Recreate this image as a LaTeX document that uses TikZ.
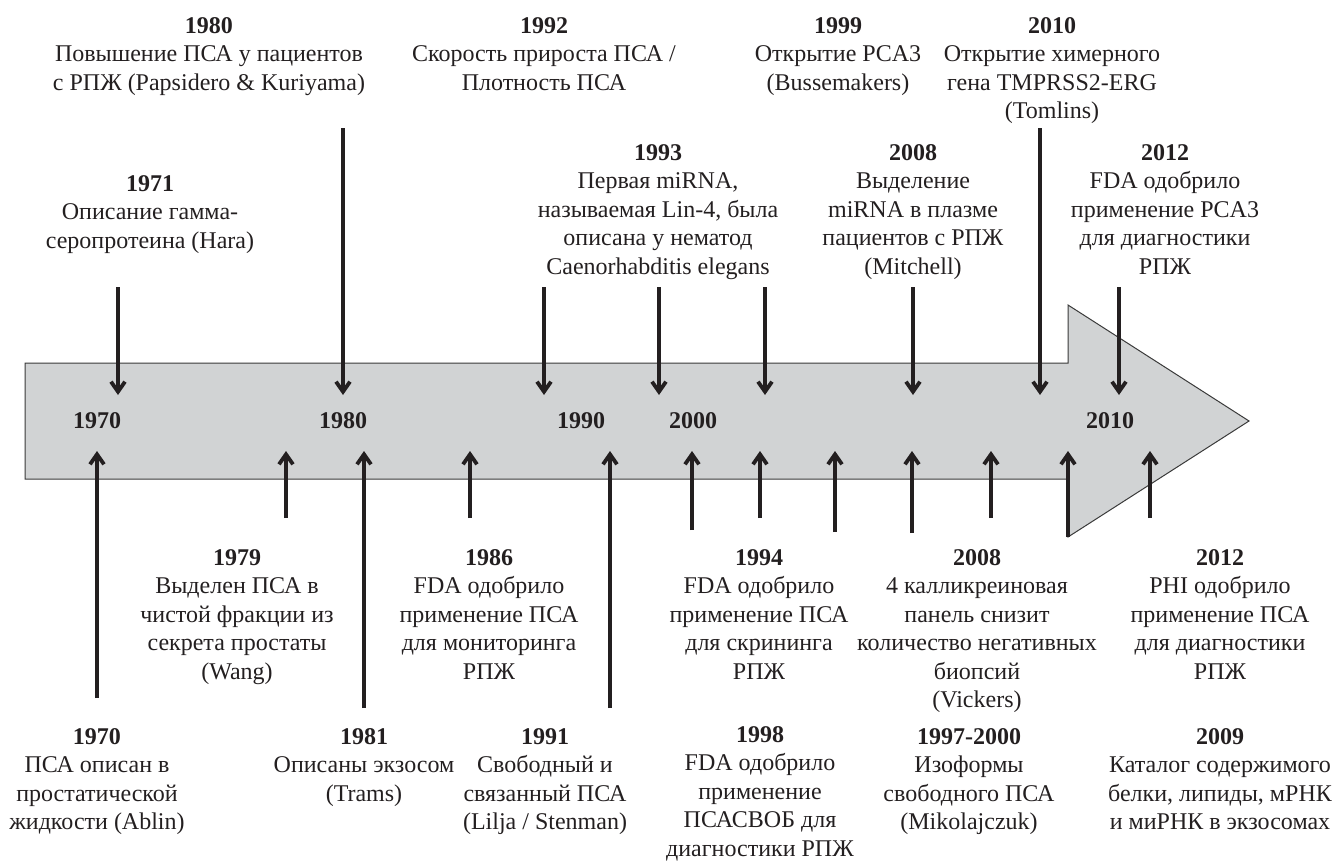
\documentclass[tikz,border=0pt]{standalone}
\usepackage{fontspec}
\setmainfont{Liberation Serif}
\usetikzlibrary{arrows.meta}
\definecolor{ink}{HTML}{231F20}
\definecolor{bandgray}{HTML}{D1D3D4}
\definecolor{bandedge}{HTML}{3A3A3A}
\newcommand\evfont{\fontsize{24}{28.5}\selectfont}
\begin{document}
\begin{tikzpicture}[x=1pt,y=-1pt,
  band/.style={fill=bandgray,draw=bandedge,line width=1pt},
  evt/.style={align=center,inner sep=0pt,anchor=north,font=\evfont,text=ink},
  yr/.style={inner sep=0pt,font=\evfont\bfseries,text=ink},
  arr/.style={draw=ink,line width=3.8pt,-{Straight Barb[length=10pt,width=14pt]}}]
\useasboundingbox (0,0) rectangle (1339,862);
% band arrow
\path[band] (25,363) -- (1068,363) -- (1068,305) -- (1249,421) -- (1068,537) -- (1068,479) -- (25,479) -- cycle;
% decade labels
\node[yr] (d70) at (97,421) {1970};
\node[yr] (d80) at (343,421) {1980};
\node[yr] (d90) at (581,421) {1990};
\node[yr] (d00) at (693,421) {2000};
\node[yr] (d10) at (1110,421) {2010};
% top events
\node[evt] (e1980) at (209,17) {\textbf{1980}\\Повышение ПСА у пациентов\\с РПЖ (Papsidero \& Kuriyama)};
\node[evt] (e1992) at (544,17) {\textbf{1992}\\Скорость прироста ПСА /\\Плотность ПСА};
\node[evt] (e1999) at (838,17) {\textbf{1999}\\Открытие PCA3\\(Bussemakers)};
\node[evt] (e2010) at (1052,17) {\textbf{2010}\\Открытие химерного\\гена TMPRSS2-ERG\\(Tomlins)};
\node[evt] (e1971) at (150,175) {\textbf{1971}\\Описание гамма-\\серопротеина (Hara)};
\node[evt] (e1993) at (658,144) {\textbf{1993}\\Первая miRNA,\\называемая Lin-4, была\\описана у нематод\\Caenorhabditis elegans};
\node[evt] (e2008a) at (913,144) {\textbf{2008}\\Выделение\\miRNA в плазме\\пациентов с РПЖ\\(Mitchell)};
\node[evt] (e2012a) at (1165,144) {\textbf{2012}\\FDA одобрило\\применение PCA3\\для диагностики\\РПЖ};
% bottom events
\node[evt] (e1979) at (237,549) {\textbf{1979}\\Выделен ПСА в\\чистой фракции из\\секрета простаты\\(Wang)};
\node[evt] (e1986) at (489,549) {\textbf{1986}\\FDA одобрило\\применение ПСА\\для мониторинга\\РПЖ};
\node[evt] (e1994) at (759,549) {\textbf{1994}\\FDA одобрило\\применение ПСА\\для скрининга\\РПЖ};
\node[evt] (e2008b) at (977,549) {\textbf{2008}\\4 калликреиновая\\панель снизит\\количество негативных\\биопсий\\(Vickers)};
\node[evt] (e2012b) at (1220,549) {\textbf{2012}\\PHI одобрило\\применение ПСА\\для диагностики\\РПЖ};
\node[evt] (e1970) at (97,728) {\textbf{1970}\\ПСА описан в\\простатической\\жидкости (Ablin)};
\node[evt] (e1981) at (364,728) {\textbf{1981}\\Описаны экзосом\\(Trams)};
\node[evt] (e1991) at (545,728) {\textbf{1991}\\Свободный и\\связанный ПСА\\(Lilja / Stenman)};
\node[evt] (e1998) at (760,726) {\textbf{1998}\\FDA одобрило\\применение\\ПСАСВОБ для\\диагностики РПЖ};
\node[evt] (e1997) at (969,728) {\textbf{1997-2000}\\Изоформы\\свободного ПСА\\(Mikolajczuk)};
\node[evt] (e2009) at (1220,728) {\textbf{2009}\\Каталог содержимого\\белки, липиды, мРНК\\и миРНК в экзосомах};
% down arrows
\foreach \n/\x/\ys in {a1/118/287, a2/343/128, a3/544/287, a4/659/287, a5/765/287, a6/913/287, a7/1040/128, a8/1119/287}{
  \coordinate (\n s) at (\x,\ys);
  \coordinate (\n t) at (\x,395);
  \draw[arr] (\n s) -- (\n t);
}
% up arrows
\foreach \n/\x/\ye in {b1/97/698, b2/286/518, b3/364/708, b4/470/518, b5/610/708, b6/692/530, b7/760/518, b8/835/532, b9/912/533, b10/991/518, b11/1068/537, b12/1150/518}{
  \coordinate (\n s) at (\x,\ye);
  \coordinate (\n t) at (\x,451);
  \draw[arr] (\n s) -- (\n t);
}
\end{tikzpicture}
\end{document}
